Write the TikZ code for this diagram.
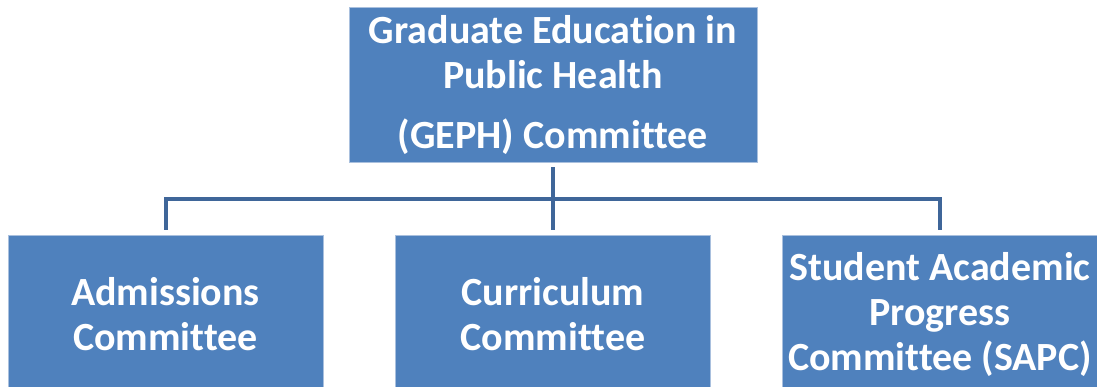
\documentclass[tikz,border=0pt]{standalone}
\usepackage{fontspec}
\setmainfont{Carlito}[Ligatures=NoCommon]
\usetikzlibrary{positioning}
\definecolor{boxBlue}{HTML}{4F81BD}
\definecolor{boxEdge}{HTML}{A9C0DE}
\definecolor{linkBlue}{HTML}{3F6699}

\begin{document}
\begin{tikzpicture}[x=1pt,y=-1pt,
    font=\fontsize{40}{45}\selectfont\bfseries,
    unit/.style={draw=boxEdge,line width=0.8pt,fill=boxBlue,text=white,
                 align=center,inner sep=0pt,minimum width=315pt,minimum height=158pt},
    link/.style={draw=linkBlue,line width=4pt}]
    \useasboundingbox (0,0) rectangle (1097,386);

    \node[unit,minimum width=408pt,minimum height=155pt] (geph) at (553,84.5)
      {Graduate Education in\\ Public Health\\[15pt] (GEPH) Committee};

    \node[unit] (adm)  at (165.5,314) {Admissions\\ Committee};
    \node[unit] (curr) at (553,314)   {Curriculum\\ Committee};
    \node[unit] (sapc) at (940,314)   {Student Academic\\ Progress\\ Committee (SAPC)};

    % tree connectors
    \coordinate (bus) at (553,199);
    \draw[link] ([yshift=-5pt]geph.south) -- ([yshift=5pt]curr.north);
    \draw[link] ([yshift=5pt]adm.north) |- (bus) -| ([yshift=5pt]sapc.north);
\end{tikzpicture}
\end{document}
